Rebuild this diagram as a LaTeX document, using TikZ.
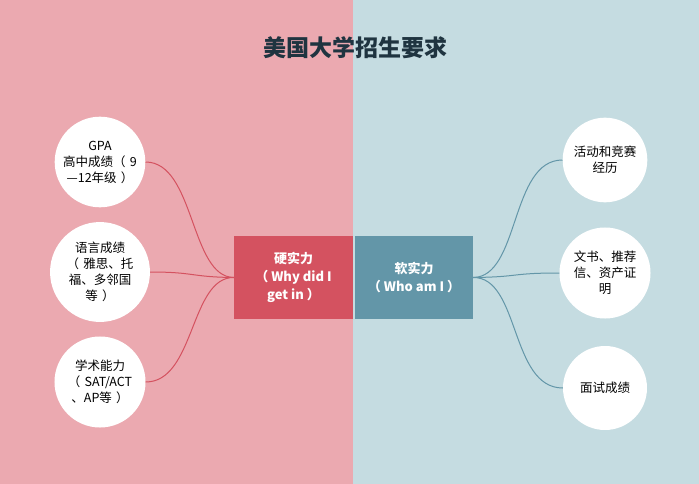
\documentclass[tikz,border=0pt]{standalone}
\usepackage{fontspec}
\setmainfont{Noto Sans CJK SC}
\definecolor{pinkbg}{HTML}{EBA9B0}
\definecolor{bluebg}{HTML}{C5DCE1}
\definecolor{redbox}{HTML}{D45260}
\definecolor{bluebox}{HTML}{6396A8}
\definecolor{titlec}{HTML}{1F3440}
\begin{document}
\begin{tikzpicture}[x=1pt,y=-1pt,
  circ/.style={circle,fill=white,minimum size=88pt,inner sep=0pt,align=center,font=\fontsize{12.5}{16}\selectfont,text width=80pt},
  hbox/.style={minimum width=119pt,minimum height=83pt,inner sep=0pt,align=center,text=white,font=\bfseries\fontsize{13}{18}\selectfont},
  lc/.style={redbox,line width=1pt},
  rc/.style={bluebox,line width=1pt}]
\fill[pinkbg] (0,0) rectangle (353,484);
\fill[bluebg] (353,0) rectangle (699,484);
\useasboundingbox (0,0) rectangle (699,484);
\node[font=\bfseries\fontsize{23}{28}\selectfont,text=titlec] (title) at (355,48) {美国大学招生要求};
\node[hbox,fill=redbox] (hard) at (293.5,277.5) {硬实力\\（ Why did I\\get in ）};
\node[hbox,fill=bluebox,minimum width=118pt] (soft) at (414,277.5) {软实力\\（ Who am I ）};
\node[circ] (l1) at (100,162) {GPA\\高中成绩（ 9\\—12年级 ）};
\node[circ] (l2) at (100,272) {语言成绩\\（ 雅思、托\\福、多邻国\\等 ）};
\node[circ] (l3) at (100,382) {学术能力\\（ SAT/ACT\\、AP等 ）};
\node[circ,minimum size=84pt] (r1) at (605,160) {活动和竞赛\\经历};
\node[circ,minimum size=84pt] (r2) at (605,273) {文书、推荐\\信、资产证\\明};
\node[circ,minimum size=84pt] (r3) at (605,388) {面试成绩};
\draw[lc] (hard.west) .. controls (190,277) and (195,162) .. (l1.east);
\draw[lc] (hard.west) .. controls (190,277) and (195,272) .. (l2.east);
\draw[lc] (hard.west) .. controls (190,277) and (195,382) .. (l3.east);
\draw[rc] (soft.east) .. controls (520,277) and (510,160) .. (r1.west);
\draw[rc] (soft.east) .. controls (520,277) and (510,273) .. (r2.west);
\draw[rc] (soft.east) .. controls (520,277) and (510,388) .. (r3.west);
\end{tikzpicture}
\end{document}
